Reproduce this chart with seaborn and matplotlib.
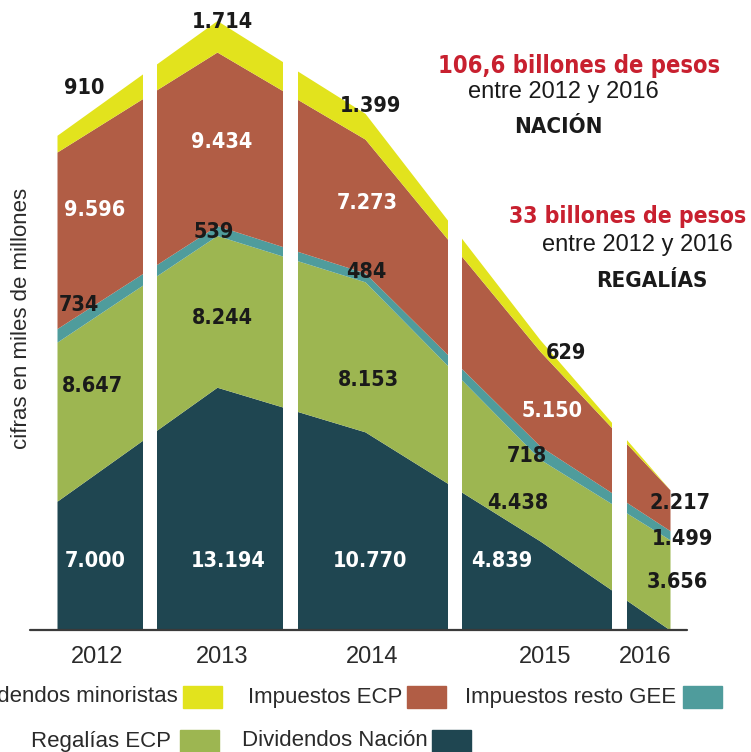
import matplotlib
matplotlib.use("Agg")
import matplotlib.pyplot as plt
from matplotlib import font_manager as fm
from matplotlib.patches import Rectangle
import seaborn as sns

# ---- data (miles de millones de pesos) ----
years = ["2012", "2013", "2014", "2015", "2016"]
div_nacion = [7000, 13194, 10770, 4839, 0]
regalias_ecp = [8647, 8244, 8153, 4438, 4900]
imp_resto_gee = [734, 539, 484, 718, 500]
imp_ecp = [9596, 9434, 7273, 5150, 2217]
div_minoristas = [910, 1714, 1399, 629, 0]

# printed value labels
lbl_nacion = ["7.000", "13.194", "10.770", "4.839", ""]
lbl_regalias = ["8.647", "8.244", "8.153", "4.438", "3.656"]
lbl_resto = ["734", "539", "484", "718", "1.499"]
lbl_imp_ecp = ["9.596", "9.434", "7.273", "5.150", "2.217"]
lbl_minor = ["910", "1.714", "1.399", "629", ""]

names = ["Dividendos Nación", "Regalías ECP", "Impuestos resto GEE",
         "Impuestos ECP", "Dividendos minoristas"]
colors = ["#1f4651", "#9db651", "#4f9c9c", "#b15d45", "#e2e31d"]

W, H = 751, 752
def px(x, y):
    return x / W, 1 - y / H


def narrow_bold():
    # look for any installed condensed / narrow bold face
    for f in fm.fontManager.ttflist:
        narrow = ("Narrow" in f.name or "Condensed" in f.name
                  or "ondensed" in str(f.stretch) or "Condensed" in f.fname)
        if narrow and f.weight in (700, "bold", 600, "semibold", "demibold"):
            return fm.FontProperties(fname=f.fname), 1.0
    return fm.FontProperties(family="Liberation Sans", weight="bold"), 0.95


sns.set_theme(style="white")
plt.rcParams["font.family"] = ["Liberation Sans", "DejaVu Sans"]
NB, k = narrow_bold()

fig = plt.figure(figsize=(W / 100, H / 100), dpi=100)
# plot area: left edge 57px, right edge 670px, baseline at 630px
ax = fig.add_axes([57 / W, (H - 630) / H, 613 / W, 630 / H])

x_pos = [0, 160, 308, 483, 613]
ax.stackplot(x_pos, div_nacion, regalias_ecp, imp_resto_gee, imp_ecp,
             div_minoristas, colors=colors, linewidth=0, edgecolor="face")
ax.set_xlim(0, 613)
ax.set_ylim(0, 630 / 0.0184)

# white separators between the years
for a, b in [(86, 100), (226, 241), (391, 405), (555, 570)]:
    ax.axvspan(a, b, color="white", lw=0, zorder=3)
ax.axhline(0, xmin=-27 / 613, xmax=630 / 613, color="#3a3a3a", lw=1.6,
           clip_on=False, zorder=4)
ax.axis("off")

# x labels
for yr, x in zip(years, [97, 222, 372, 545, 645]):
    fig.text(*px(x, 657), yr, ha="center", va="center", fontsize=17,
             color="#2a2a2a")

fig.text(*px(22, 318), "cifras en miles de millones", rotation=90,
         ha="center", va="center", fontsize=16, color="#2a2a2a")


def btext(x, y, s, size, color):
    fp = NB.copy()
    fp.set_size(size * k)
    fig.text(*px(x, y), s, ha="center", va="center", fontproperties=fp,
             color=color, zorder=5)


# value labels
label_pos = {
    "minor": [(84, 88), (222, 22), (370, 106), (566, 353)],
    "imp_ecp": [(95, 210), (222, 142), (367, 203), (552, 411), (680, 503)],
    "resto": [(79, 305), (214, 232), (366, 272), (527, 456), (682, 539)],
    "regalias": [(92, 386), (222, 318), (368, 380), (518, 503), (677, 582)],
    "nacion": [(95, 561), (228, 561), (370, 561), (502, 561)],
}
groups = [
    ("minor", lbl_minor, ["k"] * 5),
    ("imp_ecp", lbl_imp_ecp, ["white"] * 4 + ["k"]),
    ("resto", lbl_resto, ["k"] * 5),
    ("regalias", lbl_regalias, ["k"] * 5),
    ("nacion", lbl_nacion, ["white"] * 5),
]
for key, labels, cols in groups:
    for (x, y), s, c in zip(label_pos[key], labels, cols):
        btext(x, y, s, 15.5, c)

# totals
red = "#c8202f"
btext(579, 66, "106,6 billones de pesos", 17, red)
fig.text(*px(563, 92), "entre 2012 y 2016", ha="center", va="center",
         fontsize=17, color="#1a1a1a")
btext(558, 127, "NACIÓN", 16, "#1a1a1a")
btext(628, 217, "33 billones de pesos", 16.5, red)
fig.text(*px(637, 245), "entre 2012 y 2016", ha="center", va="center",
         fontsize=17, color="#1a1a1a")
btext(652, 281, "REGALÍAS", 16, "#1a1a1a")

# legend, swatch after the text
legend_rows = [
    ("Dividendos minoristas", colors[4], 178, 183, 697),
    ("Impuestos ECP", colors[3], 402, 407, 697),
    ("Impuestos resto GEE", colors[2], 676, 683, 697),
    ("Regalías ECP", colors[1], 171, 180, 741),
    ("Dividendos Nación", colors[0], 428, 432, 741),
]
for name, c, tx, sx, y in legend_rows:
    fig.text(*px(tx, y), name, ha="right", va="center", fontsize=16,
             color="#2a2a2a")
    fig.patches.append(Rectangle(px(sx, y + 11), 39 / W, 22 / H, color=c,
                                 transform=fig.transFigure, figure=fig))

fig.savefig("out.png", dpi=100)
